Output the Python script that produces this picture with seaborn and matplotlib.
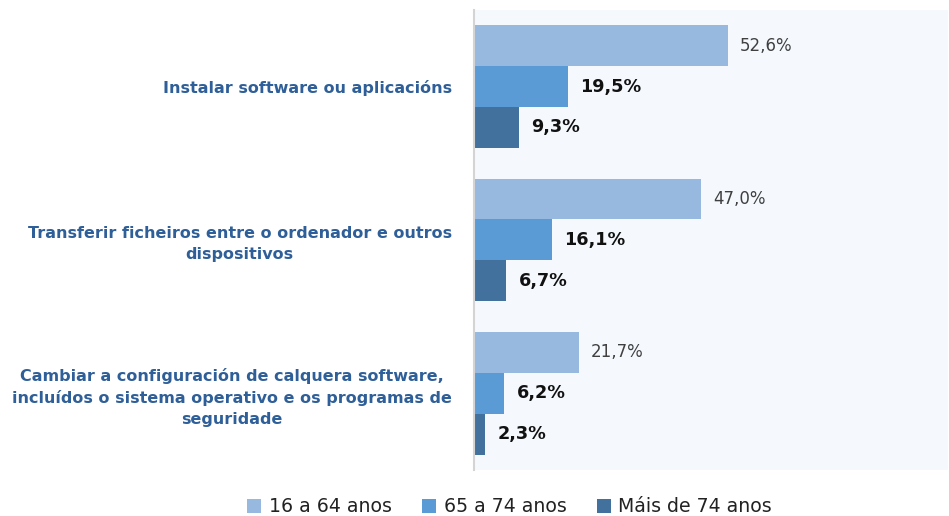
import pandas as pd
import seaborn as sns
import matplotlib.pyplot as plt

categories = [
    "Instalar software ou aplicacións",
    "Transferir ficheiros entre o ordenador e outros\ndispositivos",
    "Cambiar a configuración de calquera software,\nincluídos o sistema operativo e os programas de\nseguridade",
]
groups = ["16 a 64 anos", "65 a 74 anos", "Máis de 74 anos"]
v_16_64 = [52.6, 47.0, 21.7]
v_65_74 = [19.5, 16.1, 6.2]
v_74 = [9.3, 6.7, 2.3]
colors = ["#97b9e0", "#5b9bd5", "#41719c"]

rows = []
for g, vals in zip(groups, [v_16_64, v_65_74, v_74]):
    for c, v in zip(categories, vals):
        rows.append({"Actividade": c, "Grupo": g, "Valor": v})
df = pd.DataFrame(rows)

sns.set_theme(style="white")
plt.rcParams["font.family"] = ["DejaVu Sans"]

fig, ax = plt.subplots(figsize=(9.49, 5.16), dpi=100)
fig.subplots_adjust(left=0.4995, right=0.999, top=0.981, bottom=0.089)

sns.barplot(data=df, y="Actividade", x="Valor", hue="Grupo", order=categories,
            hue_order=groups, palette=colors, orient="h", width=0.8,
            saturation=1, linewidth=0, ax=ax, legend=True)

ax.set_facecolor("#f5f9fd")
ax.set_xlim(0, 98.3)
ax.set_ylim(2.5, -0.5)
ax.set_xlabel("")
ax.set_ylabel("")
ax.set_xticks([])
for s in ["top", "right", "bottom"]:
    ax.spines[s].set_visible(False)
ax.spines["left"].set_color("#d4d4d4")
ax.spines["left"].set_linewidth(1.5)

ax.tick_params(axis="y", length=0, pad=16)
for lbl in ax.get_yticklabels():
    lbl.set_fontsize(11.5)
    lbl.set_fontweight("bold")
    lbl.set_color("#2f5f98")
    lbl.set_multialignment("center")
    lbl.set_linespacing(1.45)

for i, cont in enumerate(ax.containers):
    labels = [f"{v:.1f}%".replace(".", ",") for v in cont.datavalues]
    if i == 0:
        ax.bar_label(cont, labels=labels, padding=9, fontsize=12,
                     color="#404040", fontweight="normal")
    else:
        ax.bar_label(cont, labels=labels, padding=9, fontsize=12.7,
                     color="#111111", fontweight="bold")

handles, lbls = ax.get_legend_handles_labels()
ax.get_legend().remove()
fig.legend(handles, lbls, loc="center", bbox_to_anchor=(0.537, 0.018), ncol=3,
           frameon=False, fontsize=13.6, handlelength=0.75, handleheight=0.75,
           handletextpad=0.4, columnspacing=1.6, labelcolor="#222222")

plt.savefig("out.png", dpi=100)
